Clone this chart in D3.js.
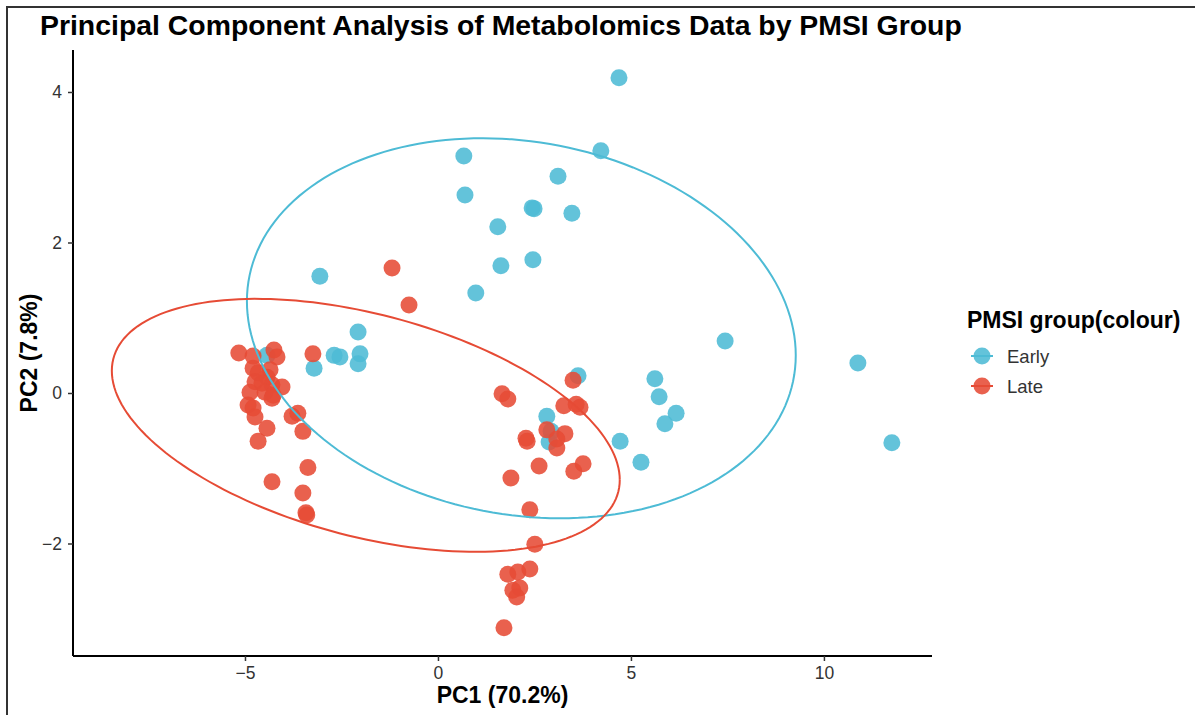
<!DOCTYPE html>
<html><head><meta charset="utf-8">
<script src="https://cdn.jsdelivr.net/npm/d3@7"></script>
<style>body{margin:0;background:#fff}svg{display:block}</style>
</head><body>
<script>
// ---- data ----
const groups = ["Early", "Late"];
const earlyPC1 = [4.69,4.22,0.67,0.70,3.11,2.44,2.49,3.47,1.55,1.63,2.46,0.98,-3.06,-2.07,-2.69,-2.54,-2.02,-2.07,-3.21,7.44,10.88,11.76,3.63,5.62,5.73,6.17,5.88,4.72,5.26,2.82,2.93,2.88,-4.43];
const earlyPC2 = [4.19,3.22,3.15,2.63,2.88,2.46,2.45,2.39,2.21,1.69,1.77,1.33,1.55,0.81,0.50,0.48,0.52,0.39,0.33,0.69,0.40,-0.66,0.23,0.19,-0.05,-0.27,-0.41,-0.64,-0.92,-0.31,-0.51,-0.65,0.50];
const latePC1 = [-1.19,-0.75,-3.24,3.50,1.66,1.81,3.26,3.58,3.68,2.82,3.29,3.08,3.08,2.28,2.31,3.76,3.52,2.62,1.89,2.38,2.51,1.81,2.07,2.38,1.94,2.12,2.04,1.71,
  -5.16,-4.79,-4.25,-4.17,-4.79,-4.66,-4.35,-4.43,-4.74,-4.56,-4.30,-4.04,-4.87,-4.48,-4.27,-4.30,-4.92,-4.79,-4.74,-4.43,-4.66,-3.78,-3.63,-3.50,-3.37,-4.30,-3.50,-3.42,-3.40];
const latePC2 = [1.66,1.17,0.52,0.17,-0.01,-0.08,-0.17,-0.15,-0.19,-0.49,-0.54,-0.61,-0.73,-0.60,-0.64,-0.94,-1.04,-0.97,-1.13,-1.55,-2.01,-2.41,-2.38,-2.34,-2.62,-2.59,-2.71,-3.12,
  0.53,0.49,0.57,0.48,0.33,0.27,0.31,0.21,0.15,0.13,0.11,0.08,0.01,0.01,-0.03,-0.07,-0.16,-0.20,-0.32,-0.47,-0.64,-0.31,-0.27,-0.51,-0.99,-1.18,-1.33,-1.59,-1.62];
// ellipse estimates per group (data units): centre, half-range in x, half-range in y, cross term
const ellCX = [2.16, -1.87];
const ellCY = [0.86, -0.43];
const ellSX = [7.11, 6.58];
const ellSY = [2.525, 1.681];
const ellC  = [-2.552, -4.766];
const xTicks = [-5, 0, 5, 10];
const yTicks = [-2, 0, 2, 4];
const colors = ["#4DBBD5", "#E64B35"];

// ---- layout ----
const W = 1195, H = 715;
const L = 73, R = 932, T = 50, B = 656;
const x = d3.scaleLinear().domain([-9.456, 12.80]).range([L, R]);
const y = d3.scaleLinear().domain([-3.495, 4.558]).range([B, T]);

const svg = d3.select("body").append("svg").attr("width", W).attr("height", H)
  .style("font-family", "'Liberation Sans', Arial, sans-serif");

// frame
svg.append("rect").attr("x", 7).attr("y", 7).attr("width", W + 10).attr("height", H + 10)
  .attr("fill", "none").attr("stroke", "#333").attr("stroke-width", 2);

// title
svg.append("text").attr("x", 40).attr("y", 35).attr("font-size", 28.4).attr("font-weight", "bold")
  .attr("fill", "#000").text("Principal Component Analysis of Metabolomics Data by PMSI Group");

// points
const pts = [];
earlyPC1.forEach((v, i) => pts.push({g: 0, x: v, y: earlyPC2[i]}));
latePC1.forEach((v, i) => pts.push({g: 1, x: v, y: latePC2[i]}));
svg.append("g").selectAll("circle").data(pts).join("circle")
  .attr("cx", d => x(d.x)).attr("cy", d => y(d.y)).attr("r", 8.5)
  .attr("fill", d => colors[d.g]).attr("fill-opacity", 0.88);

// ellipses
groups.forEach((g, k) => {
  const a = ellSX[k], c = ellC[k] / ellSX[k], b = Math.sqrt(ellSY[k] ** 2 - c * c);
  const pts = d3.range(0, 361, 2).map(t => {
    const r = t * Math.PI / 180;
    return [x(ellCX[k] + a * Math.cos(r)), y(ellCY[k] + c * Math.cos(r) + b * Math.sin(r))];
  });
  svg.append("path").attr("d", d3.line()(pts)).attr("fill", "none")
    .attr("stroke", colors[k]).attr("stroke-width", 2);
});

// axes
const fmt = d => d < 0 ? "\u2212" + Math.abs(d) : d;
const gx = svg.append("g").attr("transform", `translate(0,${B})`)
  .call(d3.axisBottom(x).tickValues(xTicks).tickSize(5).tickPadding(6).tickFormat(fmt));
const gy = svg.append("g").attr("transform", `translate(${L},0)`)
  .call(d3.axisLeft(y).tickValues(yTicks).tickSize(5).tickPadding(6).tickFormat(fmt));
[gx, gy].forEach(g => {
  g.select(".domain").attr("stroke", "#000").attr("stroke-width", 2);
  g.selectAll(".tick line").attr("stroke", "#333").attr("stroke-width", 1.5);
  g.selectAll(".tick text").attr("font-size", 17.5).attr("fill", "#333")
    .style("font-family", "'Liberation Sans', Arial, sans-serif");
});
gx.select(".domain").attr("d", `M${L},0H${R}`);
gy.select(".domain").attr("d", `M0,${B}V${T}`);

// axis titles
svg.append("text").attr("x", (L + R) / 2).attr("y", 703).attr("text-anchor", "middle")
  .attr("font-size", 23).attr("font-weight", "bold").text("PC1 (70.2%)");
svg.append("text").attr("transform", `translate(37,${(T + B) / 2}) rotate(-90)`).attr("text-anchor", "middle")
  .attr("font-size", 23).attr("font-weight", "bold").text("PC2 (7.8%)");

// legend
const lg = svg.append("g");
lg.append("text").attr("x", 967).attr("y", 328).attr("font-size", 23).attr("font-weight", "bold")
  .text("PMSI group(colour)");
groups.forEach((g, k) => {
  const yy = 356 + k * 30;
  lg.append("line").attr("x1", 971).attr("x2", 993).attr("y1", yy).attr("y2", yy)
    .attr("stroke", colors[k]).attr("stroke-width", 2);
  lg.append("circle").attr("cx", 982).attr("cy", yy).attr("r", 8.5).attr("fill", colors[k]).attr("fill-opacity", 0.88);
  lg.append("text").attr("x", 1007).attr("y", yy + 6.5).attr("font-size", 18.5).attr("fill", "#333").text(g);
});
</script>
</body></html>
